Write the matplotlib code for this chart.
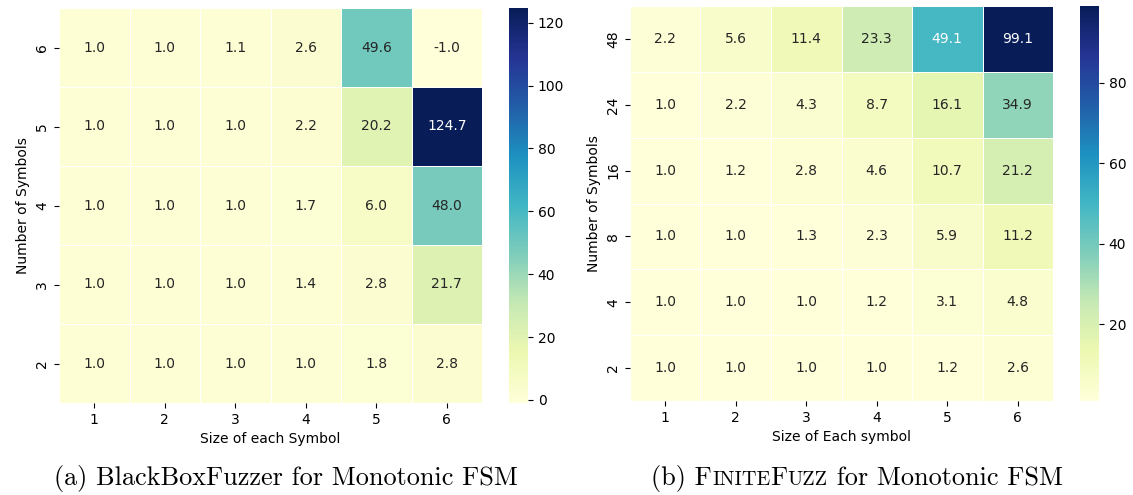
import numpy as np
import pandas as pd
import matplotlib
matplotlib.use("Agg")
import matplotlib.pyplot as plt
import seaborn as sns

# BlackBoxFuzzer, monotonic FSM
bb_rows = [6, 5, 4, 3, 2]
bb_cols = [1, 2, 3, 4, 5, 6]
bb_vals = [
    [1.0, 1.0, 1.1, 2.6, 49.6, -1.0],
    [1.0, 1.0, 1.0, 2.2, 20.2, 124.7],
    [1.0, 1.0, 1.0, 1.7, 6.0, 48.0],
    [1.0, 1.0, 1.0, 1.4, 2.8, 21.7],
    [1.0, 1.0, 1.0, 1.0, 1.8, 2.8],
]

# FiniteFuzz, monotonic FSM
ff_rows = [48, 24, 16, 8, 4, 2]
ff_cols = [1, 2, 3, 4, 5, 6]
ff_vals = [
    [2.2, 5.6, 11.4, 23.3, 49.1, 99.1],
    [1.0, 2.2, 4.3, 8.7, 16.1, 34.9],
    [1.0, 1.2, 2.8, 4.6, 10.7, 21.2],
    [1.0, 1.0, 1.3, 2.3, 5.9, 11.2],
    [1.0, 1.0, 1.0, 1.2, 3.1, 4.8],
    [1.0, 1.0, 1.0, 1.0, 1.2, 2.6],
]

W, H = 1133, 495
fig = plt.figure(figsize=(W / 100, H / 100), dpi=100)

def px(x0, y0, x1, y1):
    return [x0 / W, (H - y1) / H, (x1 - x0) / W, (y1 - y0) / H]

ax1 = fig.add_axes(px(59, 8, 482, 403))
cax1 = fig.add_axes(px(509, 8, 528, 403))
ax2 = fig.add_axes(px(630, 6, 1053, 401))
cax2 = fig.add_axes(px(1080, 6, 1099, 401))

panels = [
    (ax1, cax1, bb_vals, bb_rows, bb_cols, "Size of each Symbol"),
    (ax2, cax2, ff_vals, ff_rows, ff_cols, "Size of Each symbol"),
]
for ax, cax, vals, rows, cols, xlab in panels:
    df = pd.DataFrame(vals, index=rows, columns=cols)
    sns.heatmap(df, ax=ax, cbar_ax=cax, annot=True, fmt=".1f", cmap="YlGnBu",
                linewidths=0.6, linecolor="white", annot_kws={"fontsize": 10})
    ax.set_xlabel(xlab, fontsize=10)
    ax.set_ylabel("Number of Symbols", fontsize=10)
    ax.tick_params(labelsize=10)
    plt.setp(ax.get_yticklabels(), rotation=90, va="center")
    cax.tick_params(labelsize=10)

# captions, small caps faked with a smaller font size
def caption(parts, xc, y):
    texts = [fig.text(0, y, s, fontsize=sz, family="cmr10", va="baseline")
             for s, sz in parts]
    r = fig.canvas.get_renderer()
    widths = [t.get_window_extent(r).width for t in texts]
    x = xc - sum(widths) / 2
    for t, w in zip(texts, widths):
        t.set_x(x / W)
        x += w

fs = 18.9
sc = 14.5
caption([("(a) BlackBoxFuzzer for Monotonic FSM", fs)], 286, (H - 485) / H)
caption([("(b) F", fs), ("INITE", sc), ("F", fs), ("UZZ", sc),
         (" for Monotonic FSM", fs)], 857, (H - 485) / H)

fig.savefig("out.png", dpi=100)
